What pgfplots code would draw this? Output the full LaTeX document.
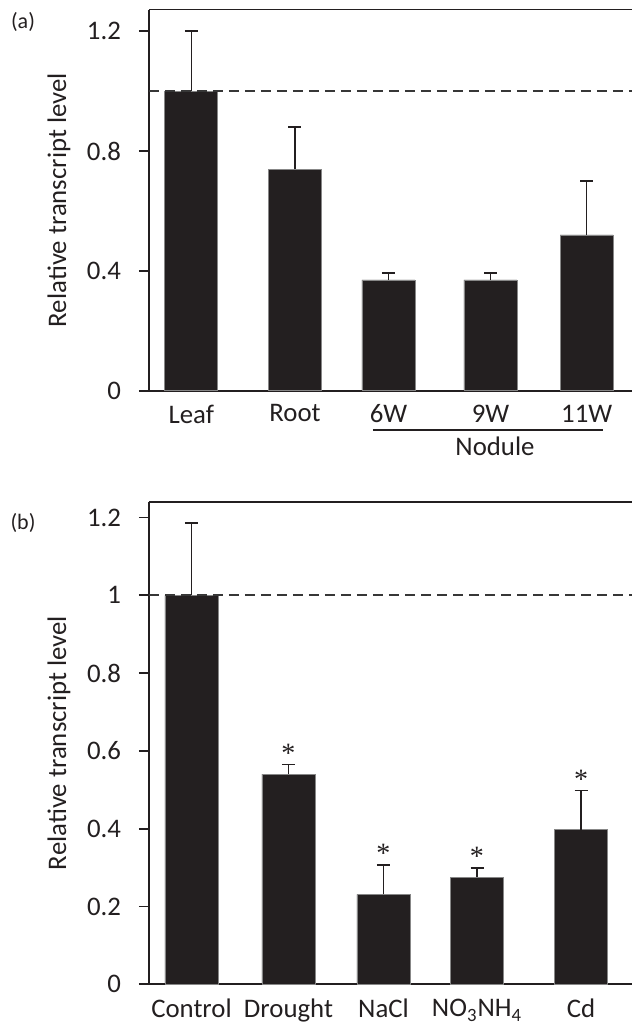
\documentclass[border=0pt]{standalone}
\usepackage{pgfplots}
\pgfplotsset{compat=1.18}
\usepackage{fontspec}
\setmainfont{Carlito}
\newfontfamily\starfont{Liberation Serif}
\definecolor{barc}{RGB}{35,31,32}
\definecolor{edgec}{RGB}{135,135,135}
\definecolor{dashc}{RGB}{55,55,55}
\newcommand{\lblfont}{\fontsize{13.4}{16}\selectfont}
\begin{document}
\begin{tikzpicture}
\useasboundingbox (-74.5pt,-319.15pt) rectangle (241.5pt,195.35pt);
\pgfplotsset{
  panel/.style={
    scale only axis, width=241.5pt, xmin=0, xmax=4.83, ymin=0,
    axis x line*=box, axis y line*=left,
    axis line style={line width=0.9pt, color=barc},
    tick align=outside, major tick length=5pt,
    ytick style={line width=0.9pt, color=barc},
    xtick style={draw=none},
    xtick=data,
    tick label style={font=\lblfont, text=barc},
    yticklabel style={xshift=-5.5pt},
    ylabel={Relative transcript level},
    every axis y label/.style={at={(axis description cs:0,0.5)}, xshift=-45pt, rotate=90, anchor=center, font=\lblfont, text=barc},
    clip=false,
  },
  barplot/.style={ybar, bar width=0.53, bar shift=0pt, fill=barc, draw=edgec, line width=0.4pt,
    error bars/y dir=plus, error bars/y explicit,
    error bars/error bar style={line width=0.65pt, color=barc, solid},
    error bars/error mark options={rotate=90, line width=0.9pt, mark size=3.25pt, color=barc, solid}},
  dashline/.style={dashc, line width=0.8pt, dash pattern=on 5pt off 3pt, forget plot},
}
% ---------- panel (a)
\begin{axis}[panel, at={(0,0)}, anchor=south west, height=190.6pt, ymax=1.273,
  ytick={0,0.4,0.8,1.2}, yticklabels={0,0.4,0.8,1.2},
  xticklabels={Leaf,Root,\raisebox{-1.7pt}{6W},9W,11W},
  xticklabel style={yshift=1.5pt}]
\addplot[barplot] table[x=x, y=y, y error plus=e] {
x y e
0.423 1.0 0.2
1.46 0.74 0.14
2.395 0.37 0.022
3.415 0.37 0.022
4.377 0.52 0.18
};
\addplot[dashline] coordinates {(0,1) (4.83,1)};
\draw[line width=0.9pt, barc] ([yshift=-19.65pt]axis cs:2.24,0) -- ([yshift=-19.65pt]axis cs:4.54,0);
\node[font=\lblfont, text=barc] at ([yshift=-28pt]axis cs:3.46,0) {Nodule};
\node[font=\fontsize{11}{13}\selectfont, text=barc] at ([xshift=-63pt, yshift=184.4pt]axis description cs:0,0) {(a)};
\end{axis}
% ---------- panel (b)
\begin{axis}[panel, at={(0,-296.8pt)}, anchor=south west, height=241.3pt, ymax=1.2406,
  ytick={0,0.2,0.4,0.6,0.8,1,1.2}, yticklabels={0,0.2,0.4,0.6,0.8,1,1.2},
  xticklabels={Control,Drought,NaCl,NO\textsubscript{3}NH\textsubscript{4},Cd},
  xticklabel style={yshift=1pt}]
\addplot[barplot] table[x=x, y=y, y error plus=e] {
x y e
0.425 1.0 0.185
1.395 0.54 0.025
2.345 0.231 0.076
3.28 0.275 0.023
4.32 0.397 0.101
};
\addplot[dashline] coordinates {(0,1) (4.83,1)};
\addplot[draw=none, mark=none, forget plot, nodes near coords={\starfont *},
  every node near coord/.append style={font=\fontsize{14}{16}\selectfont, text=barc, inner sep=0pt, anchor=base, yshift=1.2pt}]
  coordinates {(1.395,0.565) (2.345,0.307) (3.28,0.298) (4.32,0.498)};
\node[font=\fontsize{11}{13}\selectfont, text=barc] at ([xshift=-63pt, yshift=230.6pt]axis description cs:0,0) {(b)};
\end{axis}
\end{tikzpicture}
\end{document}
